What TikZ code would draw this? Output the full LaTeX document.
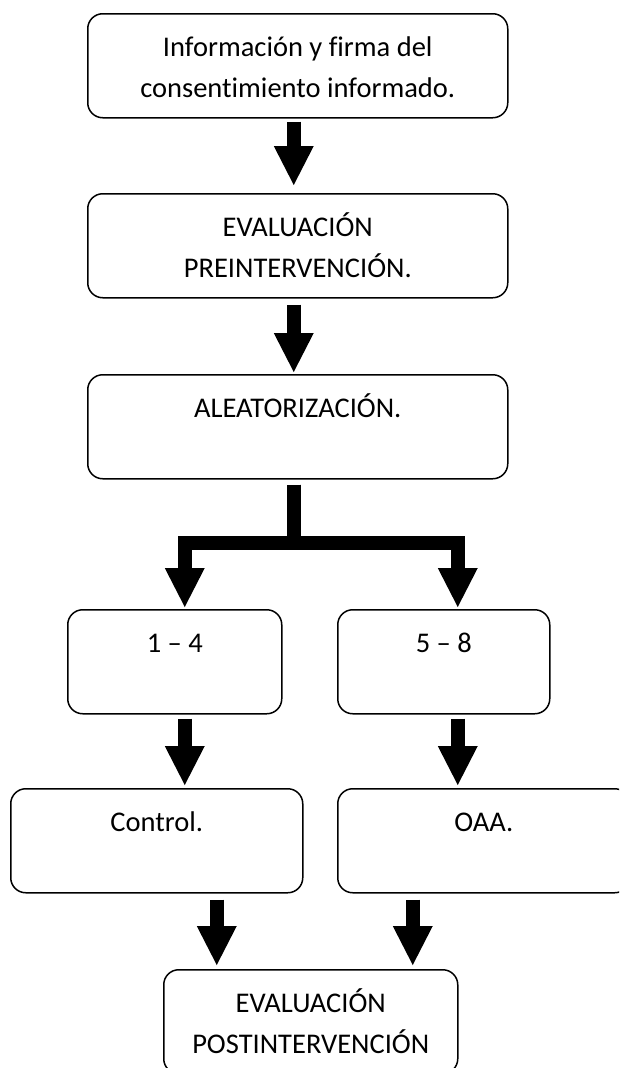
\documentclass[tikz,border=0pt]{standalone}
\usepackage{fontspec}
\setmainfont{Carlito}[Ligatures=CommonOff]
\usepackage{tikz}
\usetikzlibrary{positioning}
\usetikzlibrary{arrows.meta}

\tikzset{
  caja/.style={draw=black, line width=1.5pt, rounded corners=15pt, anchor=north west,
    align=center, inner xsep=0pt, inner ysep=0pt, text height=43pt, text depth=61pt,
    minimum height=104pt, font=\fontsize{28.5}{41}\selectfont},
  caja doble/.style={caja, text height=84pt, text depth=20pt},
  flecha/.style={line width=14pt, line join=miter,
    -{Triangle[width=40pt, length=39pt, line width=0pt]}}
}

\begin{document}
\begin{tikzpicture}[x=1pt, y=-1pt]
          \useasboundingbox (0,0) rectangle (619,1068);
          \clip (0,0) rectangle (619,1068);
          % cajas
          \node[caja doble, minimum width=420pt] (consent) at (87,13) {Información y firma del\\consentimiento informado.};
          \node[caja doble, minimum width=420pt] (preeval) at (87,193) {EVALUACIÓN\\PREINTERVENCIÓN.};
          \node[caja, minimum width=420pt] (aleat) at (87,374) {ALEATORIZACIÓN.};
          \node[caja, minimum width=214pt] (grupoA) at (67,609) {1 – 4};
          \node[caja, minimum width=212pt] (grupoB) at (337,609) {5 – 8};
          \node[caja, minimum width=292pt] (control) at (10,788) {Control.};
          \node[caja, minimum width=292pt] (oaa) at (337,788) {OAA.};
          \node[caja doble, minimum width=294pt] (posteval) at (163,969) {EVALUACIÓN\\POSTINTERVENCIÓN};
          % flechas
          \draw[flecha, shorten >=8pt] ([xshift=-4pt, yshift=-3pt]consent.south) -- ([xshift=-4pt]consent.south |- preeval.north);
          \draw[flecha, shorten >=2pt] ([xshift=-4pt, yshift=-6pt]preeval.south) -- ([xshift=-4pt]preeval.south |- aleat.north);
          \coordinate (reparto) at ([xshift=-4pt, yshift=-63pt]aleat.south);
          \draw[flecha, shorten >=2pt] ([xshift=-4pt, yshift=-5pt]aleat.south) -- (reparto) -| ([xshift=10pt]grupoA.north);
          \draw[flecha, shorten >=2pt] ([xshift=-4pt, yshift=-5pt]aleat.south) -- (reparto) -| ([xshift=14pt]grupoB.north);
          \draw[flecha, shorten >=3pt] ([xshift=10pt, yshift=-4pt]grupoA.south) -- ([xshift=10pt]grupoA.south |- control.north);
          \draw[flecha, shorten >=3pt] ([xshift=14pt, yshift=-4pt]grupoB.south) -- ([xshift=14pt]grupoB.south |- oaa.north);
          \draw[flecha, shorten >=4pt] ([xshift=60pt, yshift=-6pt]control.south) -- ([xshift=60pt]control.south |- posteval.north);
          \draw[flecha, shorten >=4pt] ([xshift=-71pt, yshift=-6pt]oaa.south) -- ([xshift=-71pt]oaa.south |- posteval.north);
        \end{tikzpicture}
\end{document}
